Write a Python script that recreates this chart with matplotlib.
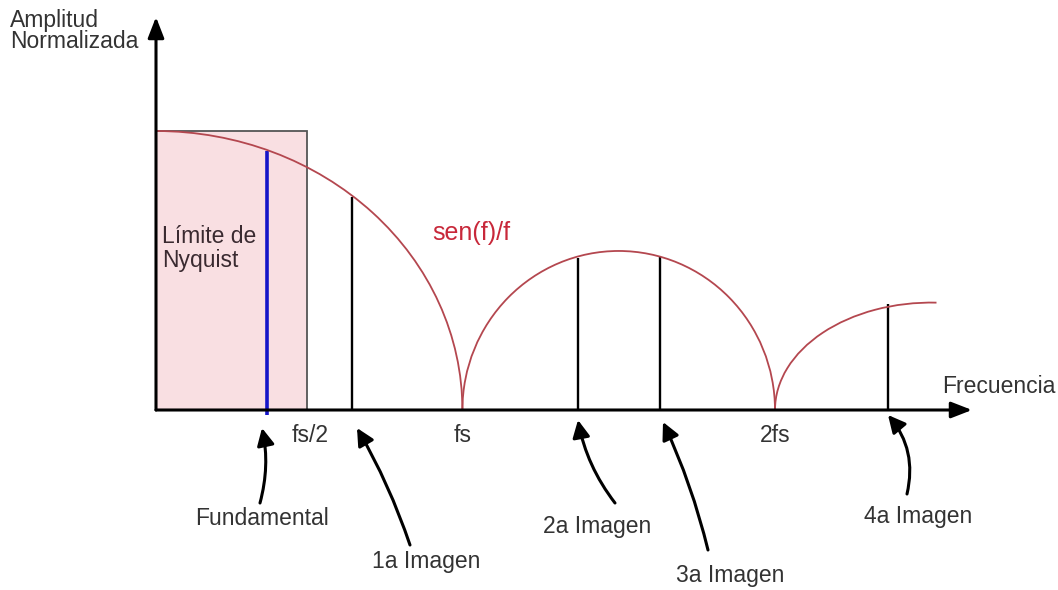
import numpy as np
import matplotlib
matplotlib.use("Agg")
import matplotlib.pyplot as plt
from matplotlib.patches import Arc, Rectangle

# ---------------- data (frequency in units of fs, amplitude normalised) ----------------
lobe_nulls = [0.99, 2.0]          # nulls of the response: fs, 2fs
lobe_peaks = [1.0, 0.57, 0.385]   # peak amplitude of each lobe
curve_end = 2.527                 # where the drawn curve stops
nyquist_limit = 0.488             # right edge of the Nyquist box

line_labels = ["Fundamental", "1a Imagen", "2a Imagen", "3a Imagen", "4a Imagen"]
line_freqs = [0.359, 0.633, 1.363, 1.628, 2.365]
line_heights = [0.93, 0.763, 0.545, 0.548, 0.38]

tick_labels = ["fs/2", "fs", "2fs"]
tick_freqs = [0.49, 0.99, 2.0]

# ---------------- layout helpers ----------------
W, H = 1058, 590
X0, Y0 = 156, 410          # pixel position of origin
SX, SY = 309.5, 279        # pixels per fs / per unit amplitude

def P(x, y):
    """pixel (top-left origin) -> figure fraction"""
    return x / W, 1 - y / H

FONT = "Liberation Sans"
TXT = "#333333"
FS = 16.5

fig = plt.figure(figsize=(W / 100, H / 100), dpi=100)
ax = fig.add_axes([0, 0, 1, 1])
ax.set_xlim(-X0 / SX, (W - X0) / SX)
ax.set_ylim((Y0 - H) / SY, Y0 / SY)
ax.axis("off")

# Nyquist box
ax.add_patch(Rectangle((0, 0), nyquist_limit, lobe_peaks[0], facecolor="#f9dfe2",
                       edgecolor="#555555", lw=1.3, zorder=1))

# vertical lines
for lab, f, h in zip(line_labels, line_freqs, line_heights):
    if lab == "Fundamental":
        ax.plot([f, f], [-0.018, h], color="#1515c8", lw=2.6, zorder=3, solid_capstyle="butt")
    else:
        ax.plot([f, f], [0, h], color="black", lw=1.7, zorder=3, solid_capstyle="butt")

# sen(f)/f curve (three lobes drawn as elliptic arcs)
curve_col = "#b4474f"
CLW = 1.3
ax.add_patch(Arc((0, 0), 2 * lobe_nulls[0], 2 * lobe_peaks[0], theta1=0, theta2=90,
                 color=curve_col, lw=CLW, zorder=4))
c2 = (lobe_nulls[0] + lobe_nulls[1]) / 2
w2 = lobe_nulls[1] - lobe_nulls[0]
ax.add_patch(Arc((c2, 0), w2, 2 * lobe_peaks[1], theta1=0, theta2=180,
                 color=curve_col, lw=CLW, zorder=4))
c3 = lobe_nulls[1] + w2 / 2
t3 = np.degrees(np.arccos(np.clip((curve_end - c3) / (w2 / 2), -1, 1)))
ax.add_patch(Arc((c3, 0), w2, 2 * lobe_peaks[2], theta1=t3, theta2=180,
                 color=curve_col, lw=CLW, zorder=4))

# axes with arrows
ax_kw = dict(arrowstyle="-|>,head_length=0.9,head_width=0.35", lw=2.2, color="black",
             shrinkA=0, shrinkB=0, mutation_scale=14)
ax.annotate("", xy=(0, (Y0 - 17) / SY), xytext=(0, 0), arrowprops=ax_kw, zorder=5)
ax.annotate("", xy=((972 - X0) / SX, 0), xytext=(0, 0), arrowprops=ax_kw, zorder=5)

# tick labels
for lab, f in zip(tick_labels, tick_freqs):
    xpx = X0 + f * SX
    fig.text(*P(xpx + (2 if lab == "fs/2" else 0), 442), lab, ha="center", va="baseline",
             fontsize=FS, family=FONT, color=TXT)

# axis titles and labels
fig.text(*P(10, 27), "Amplitud", ha="left", va="baseline", fontsize=FS, family=FONT, color=TXT)
fig.text(*P(10, 48), "Normalizada", ha="left", va="baseline", fontsize=FS, family=FONT, color=TXT)
fig.text(*P(942, 393), "Frecuencia", ha="left", va="baseline", fontsize=FS, family=FONT, color=TXT)
fig.text(*P(162, 243), "Límite de", ha="left", va="baseline", fontsize=FS, family=FONT, color="#3a2a30")
fig.text(*P(162, 267), "Nyquist", ha="left", va="baseline", fontsize=FS, family=FONT, color="#3a2a30")
fig.text(*P(432, 240), "sen(f)/f", ha="left", va="baseline", fontsize=18, family=FONT, color="#c8283a")

# annotation labels with hand-drawn style arrows
label_pos = {
    "Fundamental": ((195, 525), (260, 503), (262, 428), 0.12),
    "1a Imagen": ((372, 568), (410, 545), (357, 428), 0.05),
    "2a Imagen": ((543, 533), (615, 503), (578, 420), -0.12),
    "3a Imagen": ((676, 582), (708, 550), (663, 422), 0.05),
    "4a Imagen": ((864, 523), (907, 494), (888, 415), 0.25),
}
arr_kw = dict(arrowstyle="-|>,head_length=0.8,head_width=0.4", lw=2.2, color="black",
              shrinkA=0, shrinkB=0, mutation_scale=13)
for lab in line_labels:
    (tx, ty), (ax0, ay0), (ax1, ay1), rad = label_pos[lab]
    fig.text(*P(tx, ty), lab, ha="left", va="baseline", fontsize=FS, family=FONT, color=TXT)
    kw = dict(arr_kw, connectionstyle=f"arc3,rad={rad}")
    ax.annotate("", xy=P(ax1, ay1), xytext=P(ax0, ay0), xycoords="figure fraction",
                textcoords="figure fraction", arrowprops=kw)

fig.savefig("out.png", dpi=100)
